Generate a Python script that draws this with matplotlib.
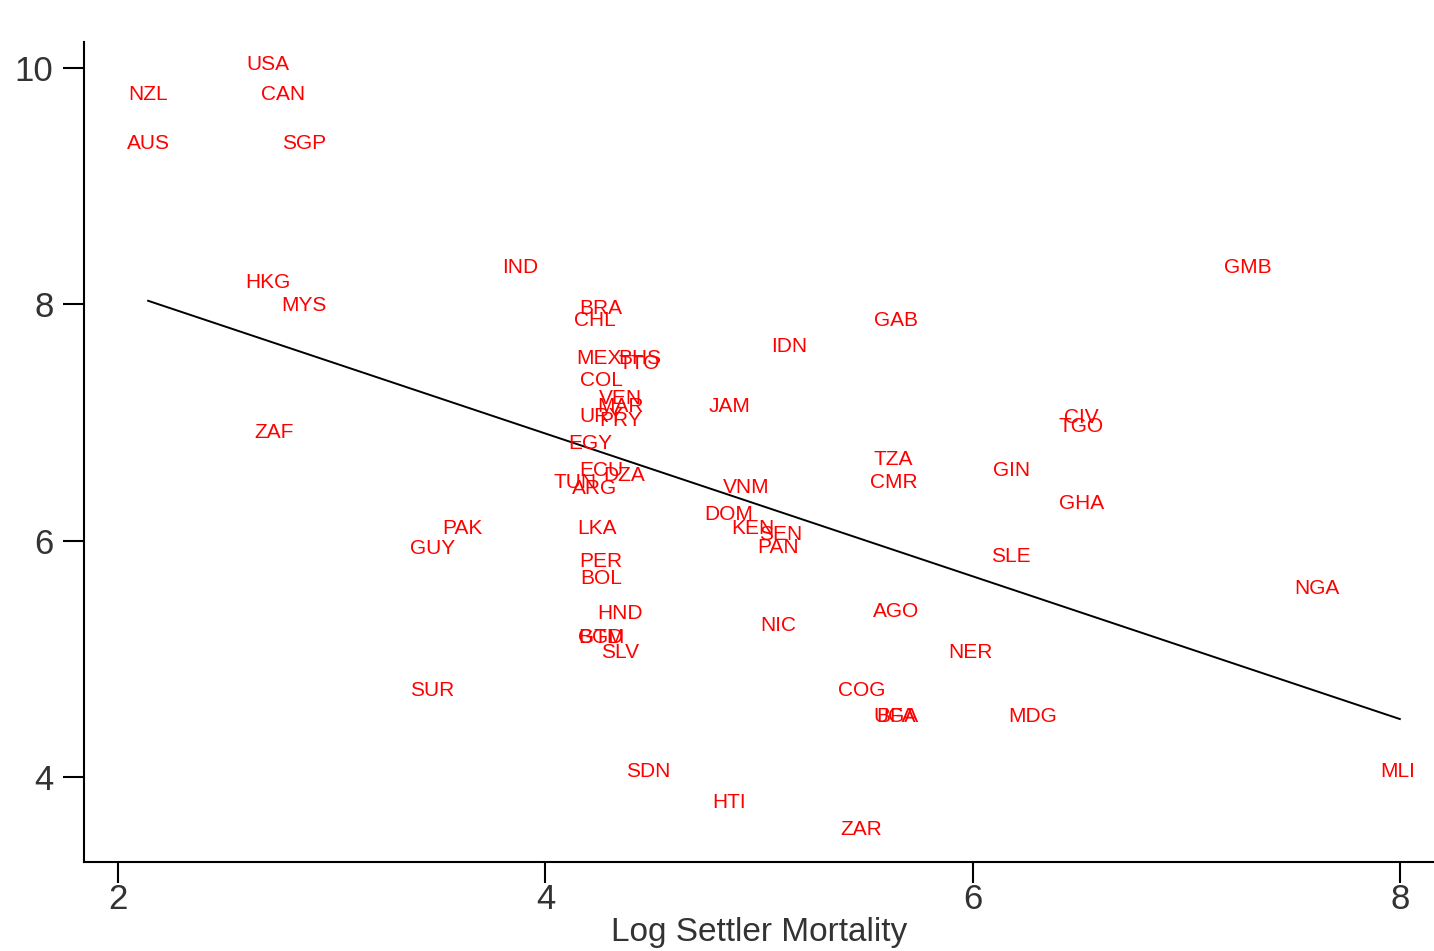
import matplotlib.pyplot as plt

# country codes with their position (log settler mortality, log GDP)
codes = ["USA", "NZL", "CAN", "AUS", "SGP", "HKG", "MYS", "IND", "GMB",
         "BRA", "CHL", "GAB", "IDN", "MEX", "BHS", "TTO", "COL", "VEN", "MAR",
         "URY", "PRY", "JAM", "ZAF", "EGY", "CIV", "TGO", "TZA", "CMR", "GIN",
         "ECU", "DZA", "TUN", "ARG", "VNM", "GHA", "DOM", "KEN", "SEN", "PAN",
         "PAK", "GUY", "LKA", "PER", "BOL", "SLE", "NGA", "HND", "AGO", "NIC",
         "BGD", "GTM", "SLV", "NER", "SUR", "COG", "BFA", "UGA", "MDG", "SDN",
         "MLI", "HTI", "ZAR"]
log_mortality = [2.70, 2.14, 2.77, 2.14, 2.87, 2.70, 2.87, 3.88, 7.29,
                 4.26, 4.23, 5.64, 5.14, 4.25, 4.44, 4.44, 4.26, 4.35, 4.35,
                 4.26, 4.35, 4.86, 2.73, 4.21, 6.51, 6.51, 5.63, 5.63, 6.18,
                 4.26, 4.37, 4.14, 4.23, 4.94, 6.51, 4.86, 4.97, 5.10, 5.09,
                 3.61, 3.47, 4.24, 4.26, 4.26, 6.18, 7.61, 4.35, 5.64, 5.09,
                 4.26, 4.26, 4.35, 5.99, 3.47, 5.48, 5.64, 5.64, 6.28, 4.48,
                 7.99, 4.86, 5.48]
log_gdp = [10.05, 9.79, 9.79, 9.38, 9.38, 8.20, 8.01, 8.33, 8.33,
           7.98, 7.88, 7.88, 7.66, 7.56, 7.56, 7.52, 7.37, 7.22, 7.15,
           7.07, 7.03, 7.15, 6.93, 6.84, 7.06, 6.98, 6.70, 6.51, 6.61,
           6.61, 6.57, 6.51, 6.46, 6.47, 6.33, 6.24, 6.12, 6.07, 5.96,
           6.12, 5.95, 6.12, 5.84, 5.70, 5.88, 5.61, 5.40, 5.42, 5.30,
           5.20, 5.20, 5.07, 5.07, 4.75, 4.75, 4.53, 4.53, 4.53, 4.06,
           4.06, 3.80, 3.57]

# fitted line end points
fit_x = [2.14, 8.0]
fit_y = [8.03, 4.49]

x_ticks = [2, 4, 6, 8]
y_ticks = [4, 6, 8, 10]

plt.rcParams['font.family'] = ['Liberation Sans', 'DejaVu Sans']

fig = plt.figure(figsize=(14.34, 9.51), dpi=100)
ax = fig.add_axes([0.0586, 0.0936, 0.9414, 0.8622])

for code, x, y in zip(codes, log_mortality, log_gdp):
    ax.text(x, y, code, color='red', fontsize=15, ha='center',
            va='center_baseline')

ax.plot(fit_x, fit_y, color='black', linewidth=1.4)

ax.set_xlim(1.84, 8.16)
ax.set_ylim(3.28, 10.22)
ax.set_xticks(x_ticks)
ax.set_yticks(y_ticks)
ax.spines['top'].set_visible(False)
ax.spines['right'].set_visible(False)
for side in ['left', 'bottom']:
    ax.spines[side].set_linewidth(1.5)
ax.tick_params(direction='out', length=15, width=1.5, labelsize=25,
               labelcolor='#333333')
ax.tick_params(axis='x', pad=0)
ax.tick_params(axis='y', pad=7)
ax.set_xlabel("Log Settler Mortality", fontsize=24, color='#333333', labelpad=1)

fig.savefig("out.png", dpi=100)
